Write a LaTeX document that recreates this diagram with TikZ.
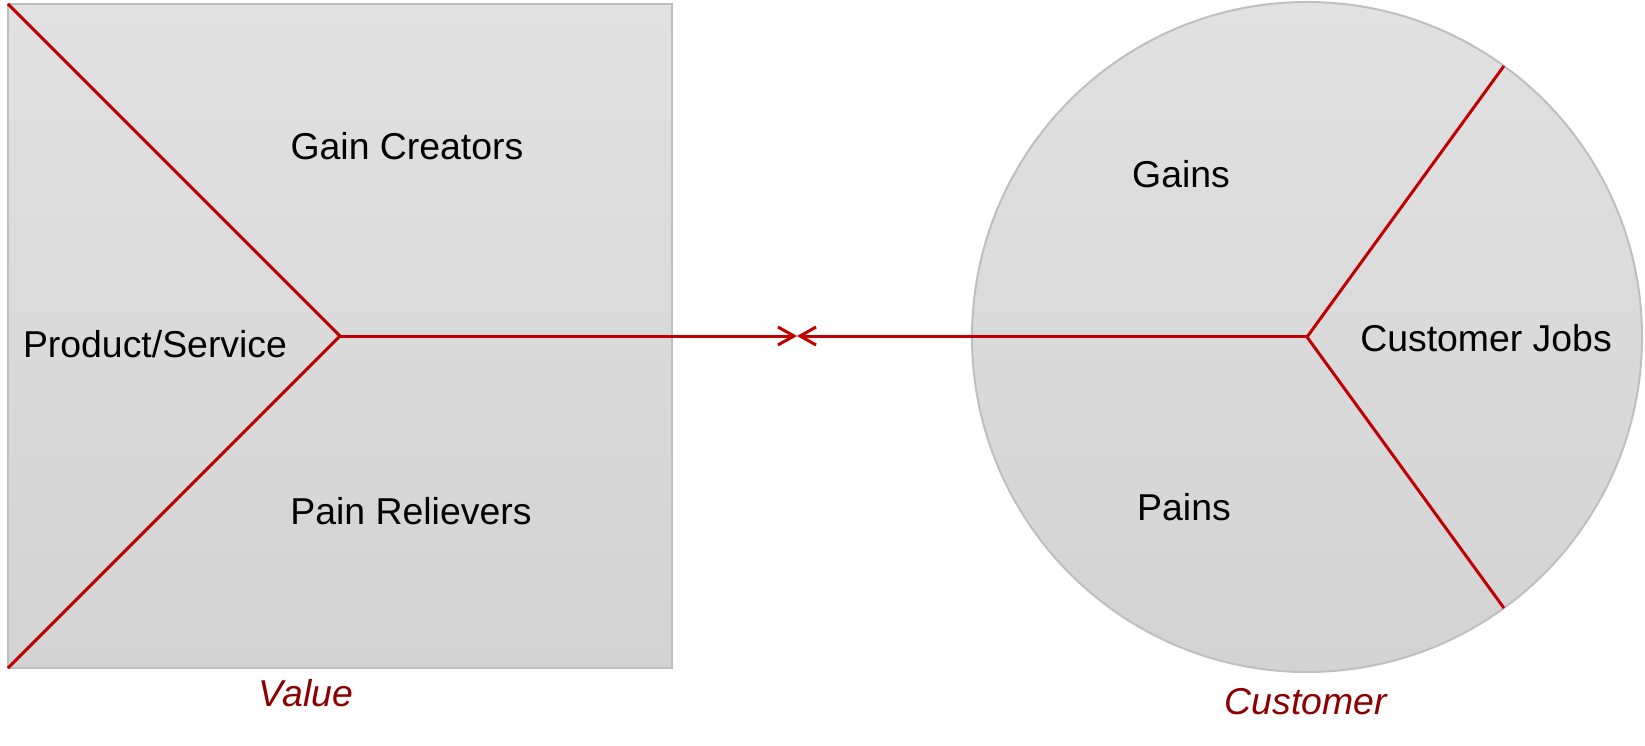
\documentclass[tikz,border=0pt]{standalone}
\usepackage{fontspec}
\setmainfont{Liberation Sans}
\usetikzlibrary{arrows.meta,calc}
\definecolor{boxtop}{HTML}{E1E1E1}
\definecolor{boxbot}{HTML}{D3D3D3}
\definecolor{boxline}{HTML}{BFBFBF}
\definecolor{redline}{HTML}{C00000}
\definecolor{darkred}{RGB}{140,0,0}
\tikzset{
  panel/.style={draw=boxline, line width=2pt, top color=boxtop, bottom color=boxbot, inner sep=0pt, outer sep=0pt},
  divider/.style={draw=redline, line width=3pt},
  linker/.style={draw=redline, line width=3pt, -{Straight Barb[length=16pt,width=18pt,line width=3pt]}},
  lbl/.style={anchor=base, inner sep=0pt, font=\fontsize{37.4}{44}\selectfont},
  caption/.style={anchor=base, inner sep=0pt, text=darkred, font=\fontsize{37.4}{44}\selectfont\itshape},
}
\begin{document}
\begin{tikzpicture}[x=1pt,y=-1pt]
\useasboundingbox (0,0) rectangle (1645,746);
% value map square
\node[panel, minimum width=664pt, minimum height=664pt] (sq) at (340,336) {};
\coordinate (apex) at (sq.center);
\draw[divider] (sq.north west) -- (apex) -- (sq.south west);
% customer profile circle
\node[panel, circle, minimum size=670pt] (cp) at (1307,337) {};
\draw[divider] (cp.54) -- (cp.center) -- (cp.-54);
% fit arrows
\coordinate (meet) at (797,336);
\draw[linker] (apex) -- (meet);
\draw[linker] (cp.center |- apex) -- (meet);
% labels
\node[lbl] (gc) at (407,160) {Gain Creators};
\node[lbl] (ps) at (155,357) {Product/Service};
\node[lbl] (pr) at (411,524) {Pain Relievers};
\node[lbl] (ga) at (1181,187) {Gains};
\node[lbl] (cj) at (1486,351) {Customer Jobs};
\node[lbl] (pa) at (1184,520) {Pains};
\node[caption] (val) at (306,706) {Value};
\node[caption] (cus) at (1306,714) {Customer};
\end{tikzpicture}
\end{document}
